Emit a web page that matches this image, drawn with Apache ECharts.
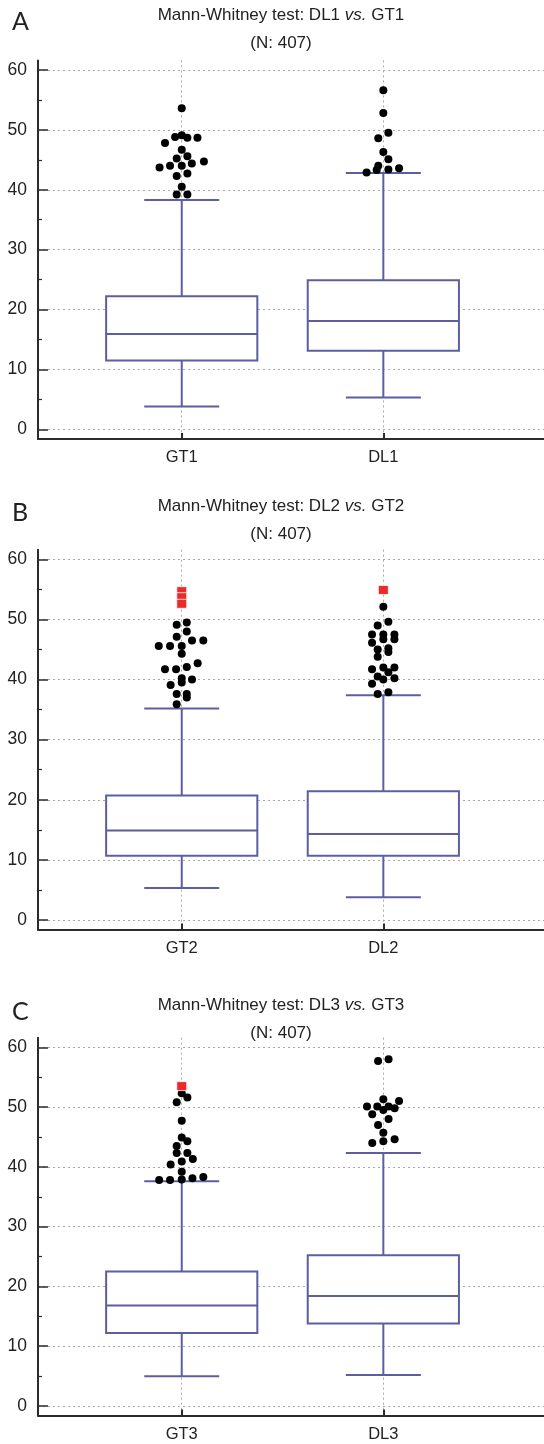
<!DOCTYPE html>
<html>
<head>
<meta charset="utf-8">
<script src="https://cdn.jsdelivr.net/npm/echarts@6/dist/echarts.min.js"></script>
<style>
  html, body { margin: 0; padding: 0; background: #fff; }
  #chart { width: 544px; height: 1444px; }
</style>
</head>
<body>
<div id="chart"></div>
<script>
// ---- data ----
const panelLetters = ["A", "B", "C"];
const titleLines = [
  "Mann-Whitney test: DL1 {i|vs.} GT1",
  "Mann-Whitney test: DL2 {i|vs.} GT2",
  "Mann-Whitney test: DL3 {i|vs.} GT3",
];
const sampleSize = 407;

const yTicks = [0, 10, 20, 30, 40, 50, 60];
const yMinorTicks = [5, 15, 25, 35, 45, 55];

// panel A
const catsA = ["GT1", "DL1"];
const lowA = [3.8, 5.3];
const q1A = [11.5, 13.1];
const medA = [15.9, 18.1];
const q3A = [22.2, 24.9];
const highA = [38.3, 42.8];
// outliers: [jitter, value]
const outGT1 = [[0, 53.6], [-0.083, 47.8], [-0.033, 48.8], [0, 49.1], [0.028, 48.7], [0.078, 48.7],
  [0, 46.7], [-0.025, 45.2], [0.028, 45.6], [-0.11, 43.7], [-0.058, 44.0], [0, 44.0], [0.05, 44.4],
  [0.11, 44.7], [-0.025, 42.3], [0.028, 42.7], [0, 40.5], [-0.025, 39.2], [0.028, 39.2]];
const outDL1 = [[0, 56.6], [0, 52.8], [-0.025, 48.6], [0.025, 49.5], [0, 46.3], [0.025, 45.1],
  [-0.025, 44.0], [-0.083, 42.9], [-0.033, 43.3], [0.025, 43.4], [0.078, 43.6]];
const farGT1 = [];
const farDL1 = [];

// panel B
const catsB = ["GT2", "DL2"];
const lowB = [5.3, 3.8];
const q1B = [10.7, 10.7];
const medB = [14.9, 14.3];
const q3B = [20.7, 21.4];
const highB = [35.2, 37.4];
const outGT2 = [[0.025, 49.5], [-0.025, 49.1], [0.025, 48.0], [-0.025, 47.1], [-0.114, 45.6],
  [-0.058, 45.6], [0, 45.6], [0.051, 46.5], [0.107, 46.5], [0, 44.3], [0.079, 42.7], [0.025, 42.1],
  [-0.083, 41.7], [-0.028, 41.7], [0, 40.2], [0.051, 40.0], [0, 39.5], [-0.055, 39.1],
  [-0.025, 37.6], [0.025, 37.6], [0.025, 37.0], [-0.025, 35.9]];
const outDL2 = [[0, 52.1], [0.025, 49.6], [-0.028, 49.0], [-0.056, 47.5], [0, 47.5], [0.055, 47.5],
  [-0.056, 46.1], [0, 46.7], [0.055, 46.7], [-0.028, 45.0], [0.025, 45.2], [0.025, 44.6],
  [-0.028, 43.8], [-0.056, 41.7], [0, 42.0], [0.055, 42.0], [0.025, 41.2], [-0.028, 40.5],
  [0, 40.0], [0.055, 40.2], [-0.056, 39.3], [-0.028, 37.6], [0.025, 37.9]];
const farGT2 = [[0, 54.7], [0, 53.7], [0, 52.6]];
const farDL2 = [[0, 54.9]];

// panel C
const catsC = ["GT3", "DL3"];
const lowC = [5.0, 5.2];
const q1C = [12.2, 13.8];
const medC = [16.8, 18.4];
const q3C = [22.5, 25.2];
const highC = [37.6, 42.3];
const outGT3 = [[0, 52.3], [0.028, 51.6], [-0.025, 50.8], [0, 47.7], [0, 44.9], [0.028, 44.3],
  [-0.025, 43.5], [-0.025, 42.3], [0.028, 42.3], [0.055, 41.3], [-0.055, 40.4], [0, 40.9],
  [0, 39.2], [-0.112, 37.8], [-0.058, 37.8], [0, 37.9], [0.053, 38.1], [0.107, 38.3]];
const outDL3 = [[-0.026, 57.7], [0.026, 58.0], [0, 51.3], [0.078, 51.0], [-0.081, 50.1],
  [-0.03, 50.1], [0.026, 50.1], [0, 49.5], [0.056, 49.8], [-0.055, 48.8], [0.026, 48.0],
  [-0.026, 47.0], [0, 45.7], [-0.055, 44.0], [0, 44.3], [0.056, 44.6]];
const farGT3 = [[0, 53.5]];
const farDL3 = [];

// ---- layout / style ----
const FONT = "Liberation Sans";
const BOX_COLOR = "#5b5f9f";
const AXIS_COLOR = "#2b2b2b";
const GRID_LINE = { color: "#a8a8a8", type: [2, 3], width: 1 };

const panels = [
  { cats: catsA, low: lowA, q1: q1A, med: medA, q3: q3A, high: highA, out: [outGT1, outDL1], far: [farGT1, farDL1],
    top: 60.4, height: 378.5, letterY: 21.7, titleY: 15 },
  { cats: catsB, low: lowB, q1: q1B, med: medB, q3: q3B, high: highB, out: [outGT2, outDL2], far: [farGT2, farDL2],
    top: 549.7, height: 379.9, letterY: 513, titleY: 506.7 },
  { cats: catsC, low: lowC, q1: q1C, med: medC, q3: q3C, high: highC, out: [outGT3, outDL3], far: [farGT3, farDL3],
    top: 1037.7, height: 377.9, letterY: 1011.7, titleY: 1005 },
];

function renderBox(params, api) {
  const x = api.value(0);
  const low = api.coord([x, api.value(1)]);
  const q1 = api.coord([x, api.value(2)]);
  const med = api.coord([x, api.value(3)]);
  const q3 = api.coord([x, api.value(4)]);
  const high = api.coord([x, api.value(5)]);
  const boxW = api.size([0.75, 0])[0];
  const capW = api.size([0.372, 0])[0];
  const cx = low[0];
  const style = { stroke: BOX_COLOR, lineWidth: 2, fill: null };
  return {
    type: "group",
    children: [
      { type: "line", shape: { x1: cx, y1: low[1], x2: cx, y2: q1[1] }, style: style },
      { type: "line", shape: { x1: cx, y1: q3[1], x2: cx, y2: high[1] }, style: style },
      { type: "line", shape: { x1: cx - capW / 2, y1: low[1], x2: cx + capW / 2, y2: low[1] }, style: style },
      { type: "line", shape: { x1: cx - capW / 2, y1: high[1], x2: cx + capW / 2, y2: high[1] }, style: style },
      { type: "rect", shape: { x: cx - boxW / 2, y: q3[1], width: boxW, height: q1[1] - q3[1] },
        style: { stroke: BOX_COLOR, lineWidth: 2, fill: "#fff" } },
      { type: "line", shape: { x1: cx - boxW / 2, y1: med[1], x2: cx + boxW / 2, y2: med[1] }, style: style },
    ],
  };
}

const grid = [], xAxis = [], yAxis = [], series = [], graphic = [];

panels.forEach((p, i) => {
  grid.push({ left: 38, right: 0, top: p.top, height: p.height });

  xAxis.push({
    gridIndex: i,
    type: "value",
    min: 0.287,
    max: 2.797,
    axisLine: { onZero: false, lineStyle: { color: AXIS_COLOR, width: 2 } },
    axisTick: { inside: true, length: 6, customValues: [1, 2], lineStyle: { color: AXIS_COLOR, width: 2 } },
    axisLabel: {
      customValues: [1, 2],
      formatter: (v) => p.cats[Math.round(v) - 1],
      margin: 10, fontSize: 16.5, color: "#222", fontFamily: FONT,
    },
    splitLine: { show: true, lineStyle: GRID_LINE },
  });

  // major ticks + labels + grid lines
  yAxis.push({
    gridIndex: i,
    type: "value",
    position: "left",
    min: -1.6,
    max: 61.6,
    axisLine: { show: true, onZero: false, lineStyle: { color: AXIS_COLOR, width: 2 } },
    axisTick: { show: true, inside: true, length: 10, customValues: yTicks, lineStyle: { color: AXIS_COLOR, width: 1.5 } },
    axisLabel: { customValues: yTicks, margin: 11, fontSize: 17.5, color: "#222", fontFamily: FONT },
    splitLine: { show: true, lineStyle: GRID_LINE },
  });
  // minor ticks
  yAxis.push({
    gridIndex: i,
    type: "value",
    position: "left",
    offset: 0,
    min: -1.6,
    max: 61.6,
    axisLine: { show: false, onZero: false },
    axisTick: { show: true, inside: true, length: 4, customValues: yMinorTicks, lineStyle: { color: AXIS_COLOR, width: 1.2 } },
    axisLabel: { show: false },
    splitLine: { show: false },
  });

  series.push({
    type: "custom",
    xAxisIndex: i,
    yAxisIndex: i * 2,
    renderItem: renderBox,
    encode: { x: 0, y: [1, 2, 3, 4, 5] },
    data: p.cats.map((c, k) => [k + 1, p.low[k], p.q1[k], p.med[k], p.q3[k], p.high[k]]),
    z: 2,
  });

  series.push({
    type: "scatter",
    xAxisIndex: i,
    yAxisIndex: i * 2,
    symbol: "circle",
    symbolSize: 8,
    itemStyle: { color: "#000", opacity: 1 },
    data: p.out.flatMap((list, k) => list.map((d) => [k + 1 + d[0], d[1]])),
    z: 3,
  });

  series.push({
    type: "scatter",
    xAxisIndex: i,
    yAxisIndex: i * 2,
    symbol: "rect",
    symbolSize: [10, 9],
    itemStyle: { color: "#ec2a2a", borderColor: "#fff", borderWidth: 0.8, opacity: 1 },
    data: p.far.flatMap((list, k) => list.map((d) => [k + 1 + d[0], d[1]])),
    z: 4,
  });

  graphic.push({
    type: "text", x: 12, y: p.letterY,
    style: { text: panelLetters[i], fontSize: 25, fontFamily: "Lato", fill: "#222", verticalAlign: "middle" },
  });
  graphic.push({
    type: "text", x: 281, y: p.titleY,
    style: {
      text: titleLines[i], fontSize: 17, fontFamily: FONT, fill: "#222", align: "center", verticalAlign: "middle",
      rich: { i: { fontSize: 17, fontFamily: FONT, fontStyle: "italic", fill: "#222" } },
    },
  });
  graphic.push({
    type: "text", x: 281, y: p.titleY + 28,
    style: { text: "(N: " + sampleSize + ")", fontSize: 17, fontFamily: FONT, fill: "#222", align: "center", verticalAlign: "middle" },
  });
});

const chart = echarts.init(document.getElementById("chart"));
chart.setOption({
  animation: false,
  backgroundColor: "#fff",
  grid: grid,
  xAxis: xAxis,
  yAxis: yAxis,
  series: series,
  graphic: graphic,
});
</script>
</body>
</html>
